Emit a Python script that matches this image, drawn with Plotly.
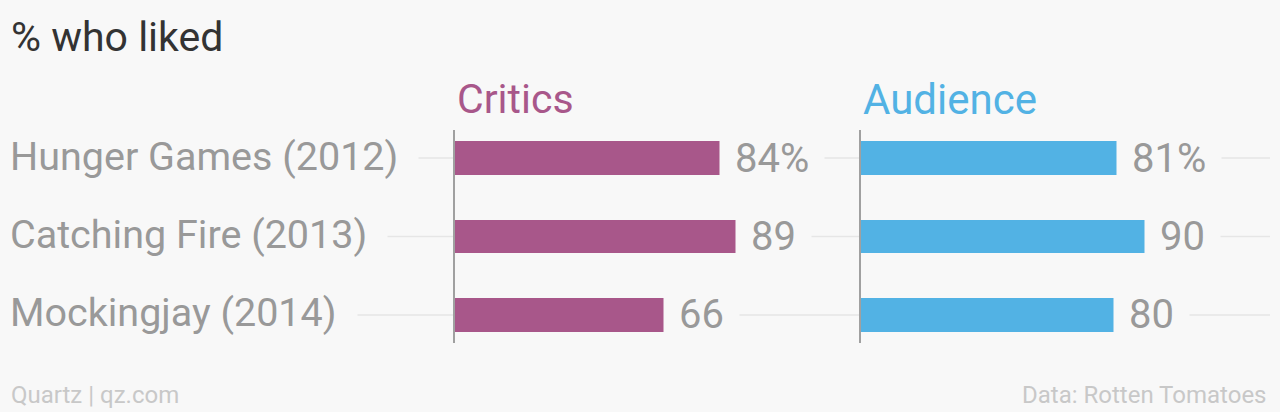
import plotly.graph_objects as go

# ---- data ----
categories = ["Hunger Games (2012)", "Catching Fire (2013)", "Mockingjay (2014)"]
critics = [84, 89, 66]
audience = [81, 90, 80]
critics_labels = ["84%", "89", "66"]
audience_labels = ["81%", "90", "80"]
series_names = ["Critics", "Audience"]
title_text = "% who liked"
footer_left = "Quartz | qz.com"
footer_right = "Data: Rotten Tomatoes"

# ---- style ----
W, H = 1280, 412
BG = "#f8f8f8"
PURPLE = "#a8578a"
BLUE = "#52b2e4"
GRAY = "#999999"
GRID = "#e6e6e6"
AXIS = "#a0a0a0"
FONT = "Roboto, sans-serif"


def px(x):
    return x / W


def py(y):
    return 1 - y / H


y_dom = [py(343), py(130)]
x1_dom = [px(455), px(455 + 316)]
x2_dom = [px(861), px(861 + 316)]
bar_w = 0.433
y_range = [len(categories) - 1 + 0.357, -0.357]

fig = go.Figure()
fig.add_trace(go.Bar(x=critics, y=categories, orientation="h", width=bar_w,
                     marker=dict(color=PURPLE, line=dict(width=0)),
                     xaxis="x", yaxis="y", hoverinfo="skip", showlegend=False))
fig.add_trace(go.Bar(x=audience, y=categories, orientation="h", width=bar_w,
                     marker=dict(color=BLUE, line=dict(width=0)),
                     xaxis="x2", yaxis="y2", hoverinfo="skip", showlegend=False))

axis_common_y = dict(type="category", categoryorder="array", categoryarray=categories,
                     range=y_range, domain=y_dom, showline=True, linecolor=AXIS, linewidth=2,
                     showgrid=False, zeroline=False, showticklabels=False, ticks="", fixedrange=True)
fig.update_layout(
    width=W, height=H,
    margin=dict(l=0, r=0, t=0, b=0),
    paper_bgcolor=BG, plot_bgcolor="rgba(0,0,0,0)",
    showlegend=False,
    font=dict(family=FONT, color=GRAY),
    xaxis=dict(domain=x1_dom, range=[0, 100], visible=False, anchor="y", fixedrange=True),
    xaxis2=dict(domain=x2_dom, range=[0, 100], visible=False, anchor="y2", fixedrange=True),
    yaxis=dict(anchor="x", **axis_common_y),
    yaxis2=dict(anchor="x2", **axis_common_y),
    bargap=0,
)

shapes = []
annotations = []
for i, cat in enumerate(categories):
    shapes.append(dict(type="line", xref="paper", yref="y", x0=px(10), x1=px(1270),
                       y0=i, y1=i, line=dict(color=GRID, width=1.5), layer="below"))
    annotations.append(dict(text=cat, xref="paper", x=px(10), xanchor="left", xshift=-21,
                            yref="y", y=i, yanchor="middle", yshift=2, showarrow=False,
                            bgcolor=BG, borderpad=20,
                            font=dict(size=39.5, color=GRAY, family=FONT)))

for xr, yr, vals, labs in [("x", "y", critics, critics_labels), ("x2", "y2", audience, audience_labels)]:
    for i, (v, lab) in enumerate(zip(vals, labs)):
        annotations.append(dict(text=lab, xref=xr, x=v, xanchor="left", xshift=-1,
                                yref=yr, y=i, yanchor="middle", yshift=0, showarrow=False,
                                bgcolor=BG, borderpad=15,
                                font=dict(size=40, color=GRAY, family=FONT)))

annotations.append(dict(text=series_names[0], xref="paper", x=px(455), xanchor="left",
                        yref="paper", y=py(99), yanchor="middle", showarrow=False,
                        font=dict(size=41, color=PURPLE, family=FONT)))
annotations.append(dict(text=series_names[1], xref="paper", x=px(861), xanchor="left",
                        yref="paper", y=py(99), yanchor="middle", showarrow=False,
                        font=dict(size=42, color=BLUE, family=FONT)))
annotations.append(dict(text=title_text, xref="paper", x=px(9), xanchor="left",
                        yref="paper", y=py(37), yanchor="middle", showarrow=False,
                        font=dict(size=41, color="#333333", family=FONT)))
annotations.append(dict(text=footer_left, xref="paper", x=px(9), xanchor="left",
                        yref="paper", y=py(395), yanchor="middle", showarrow=False,
                        font=dict(size=24, color="#c8c8c8", family=FONT)))
annotations.append(dict(text=footer_right, xref="paper", x=px(1269), xanchor="right",
                        yref="paper", y=py(395), yanchor="middle", showarrow=False,
                        font=dict(size=24, color="#c8c8c8", family=FONT)))

fig.update_layout(shapes=shapes, annotations=annotations)
fig.write_html("out.html", config={"displayModeBar": False},
               post_script="document.body.style.margin='0';document.body.style.overflow='hidden';")
